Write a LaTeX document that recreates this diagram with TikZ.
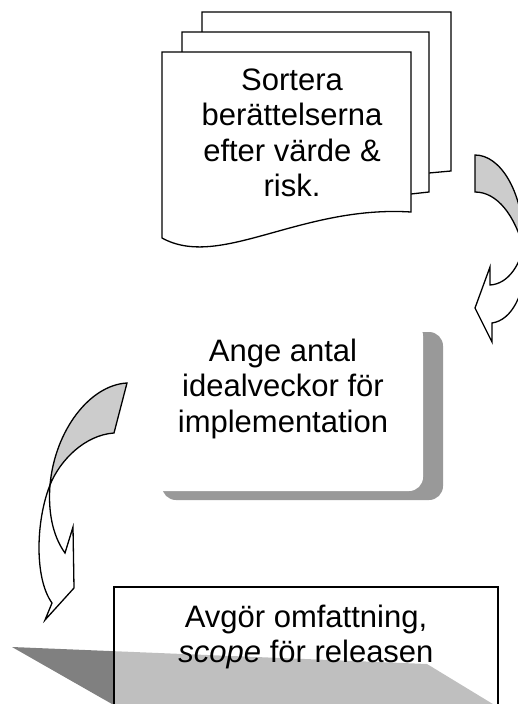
\documentclass[tikz,border=0pt]{standalone}
\usepackage{fontspec}
\setmainfont{Liberation Sans}
\definecolor{facegray}{HTML}{CCCCCC}
\definecolor{shadegray}{HTML}{999999}
\definecolor{floorgray}{HTML}{808080}
\begin{document}
\begin{tikzpicture}[x=1pt,y=-1pt,
  outline/.style={draw=black, line width=1.3pt, line join=miter},
  boxtext/.style={font=\fontsize{31}{35.5}\selectfont, align=center, inner sep=0pt},
]
\useasboundingbox (0,0) rectangle (518,704);
\clip (0,0) rectangle (518,704);

% stacked documents
\path[outline, fill=white] (202,12) -- (451,12) -- (451,171) -- (429,173) -- (202,173) -- cycle;
\path[outline, fill=white] (182,32) -- (429,32) -- (429,192) -- (411,194) -- (182,194) -- cycle;
\path[outline, fill=white] (162,52) -- (411,52) -- (411,212)
  .. controls (300,205) and (220,270) .. (162,238) -- cycle;
\node[boxtext] (sort) at (292,133) {Sortera\\berättelserna\\efter värde \&\\risk.};

% curved arrow on the right
\path[outline, fill=facegray] (475,155) .. controls (500,155) and (522,190) .. (524,240)
  -- (524,250) .. controls (515,215) and (497,192) .. (475,192) -- cycle;
\path[outline, fill=white] (526,235) .. controls (522,265) and (508,284) .. (490,285)
  -- (490,267) -- (475,308) -- (492,342) -- (492,323)
  .. controls (512,320) and (524,295) .. (527,260) -- cycle;

% rounded box with shadow
\fill[shadegray, rounded corners=14pt] (162,332) rectangle (443,500);
\fill[white, rounded corners=14pt] (142,322) rectangle (423,491);
\node[boxtext] (ange) at (283,388.5) {Ange antal\\idealveckor för\\implementation};

% curved arrow on the left
\path[outline, fill=facegray] (127,383) .. controls (90,385) and (55,430) .. (50,485)
  .. controls (60,460) and (85,435) .. (114,433) -- cycle;
\path[outline, fill=white] (50,485) .. controls (36,520) and (34,578) .. (52,603)
  -- (45,620) -- (74,588) -- (73,527) -- (65,553)
  .. controls (52,535) and (48,510) .. (50,485) -- cycle;

% release box over its floor shadow
\fill[floorgray] (12,647) -- (427,664) -- (506,712) -- (126,712) -- cycle;
\path[outline, fill=white, fill opacity=0.5] (114,587) rectangle (498,720);
\node[boxtext] (scope) at (306,637) {Avgör omfattning,\\\textit{scope} för releasen};
\end{tikzpicture}
\end{document}
